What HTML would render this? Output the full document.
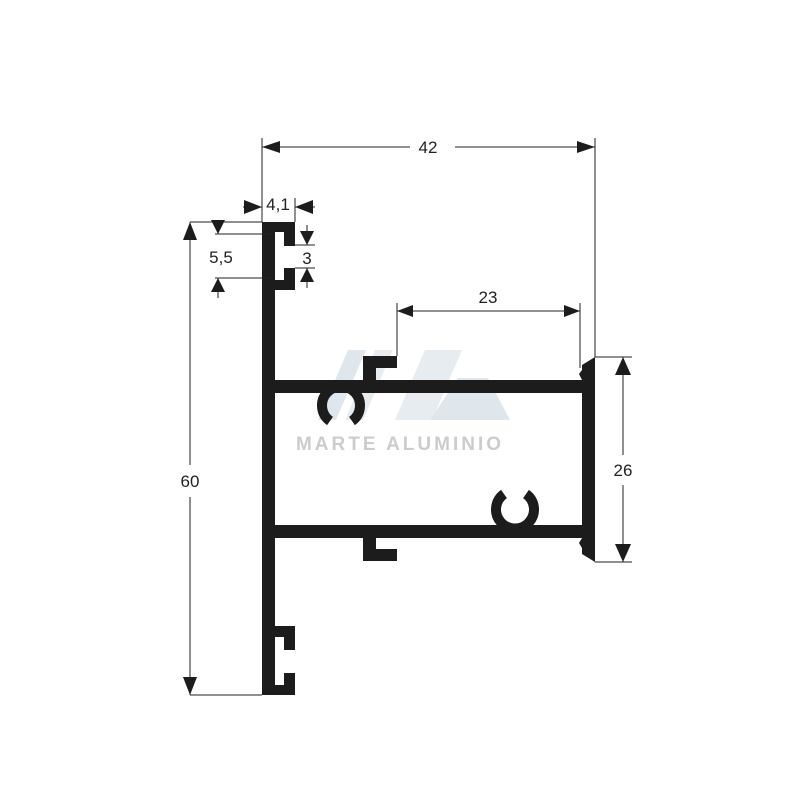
<!DOCTYPE html>
<html><head><meta charset="utf-8"><style>body{margin:0;background:#fff}svg{display:block}</style></head><body>
<svg width="800" height="800" viewBox="0 0 800 800" xmlns="http://www.w3.org/2000/svg" font-family="Liberation Sans, Arial, sans-serif">
<g opacity="0.45">
<polygon points="318,420 348,350 366,350 336,420" fill="#b9cad6"/>
<polygon points="345,420 375,350 393,350 363,420" fill="#c9d6df"/>
<polygon points="395,420 425,350 462,350 432,420" fill="#c9d6df"/>
<polygon points="430,420 458,378 488,378 510,420" fill="#b9cad6"/>
</g>
<text x="400" y="450" font-size="19" fill="#cccccc" text-anchor="middle" font-weight="bold" letter-spacing="3">MARTE ALUMINIO</text>
<g fill="#1c1c1c" stroke="none">
<rect x="262" y="222" width="13" height="473"/>
<rect x="262" y="222" width="33" height="10"/>
<rect x="284" y="222" width="11" height="24"/>
<rect x="275" y="280" width="20" height="10"/>
<rect x="284" y="268" width="11" height="22"/>
<rect x="275" y="626" width="20" height="11"/>
<rect x="284" y="626" width="11" height="24"/>
<rect x="275" y="685" width="20" height="10"/>
<rect x="284" y="673" width="11" height="22"/>
<rect x="275" y="380" width="308" height="13"/>
<rect x="275" y="525" width="308" height="13"/>
<polygon points="582,365 595,357 595,562 582,554 582,548 579,543 582,538 582,380 579,374 582,370"/>
<rect x="363" y="356" width="13" height="24"/>
<rect x="363" y="356" width="34" height="12"/>
<rect x="363" y="538" width="13" height="23"/>
<rect x="363" y="549" width="34" height="12"/>
</g>
<g fill="none" stroke="#1c1c1c" stroke-width="10" stroke-linecap="butt">
<path d="M330,421 A19,19 0 1 1 352,421" />
<path d="M504,494 A19,19 0 1 0 526,494" />
</g>
<g stroke="#222" stroke-width="1" fill="none">
<line x1="262" y1="138" x2="262" y2="222"/><line x1="595" y1="138" x2="595" y2="357"/>
<line x1="262" y1="147" x2="410" y2="147"/><line x1="455" y1="147" x2="595" y2="147"/>
<line x1="295" y1="198" x2="295" y2="222"/><line x1="243" y1="207" x2="262" y2="207"/><line x1="295" y1="207" x2="315" y2="207"/>
<line x1="190" y1="222" x2="262" y2="222"/><line x1="215" y1="234" x2="275" y2="234"/><line x1="215" y1="278" x2="275" y2="278"/>
<line x1="218" y1="220" x2="218" y2="234"/><line x1="218" y1="278" x2="218" y2="298"/>
<line x1="295" y1="245" x2="315" y2="245"/><line x1="295" y1="268" x2="315" y2="268"/>
<line x1="307" y1="225" x2="307" y2="245"/><line x1="307" y1="268" x2="307" y2="288"/>
<line x1="190" y1="222" x2="190" y2="465"/><line x1="190" y1="497" x2="190" y2="695"/><line x1="190" y1="695" x2="262" y2="695"/>
<line x1="397" y1="303" x2="397" y2="356"/><line x1="580" y1="303" x2="580" y2="368"/><line x1="397" y1="311" x2="580" y2="311"/>
<line x1="595" y1="357" x2="632" y2="357"/><line x1="595" y1="562" x2="632" y2="562"/>
<line x1="623" y1="357" x2="623" y2="455"/><line x1="623" y1="485" x2="623" y2="562"/>
</g>
<g fill="#1c1c1c">
<polygon points="262,147 280,141 280,153"/><polygon points="595,147 577,141 577,153"/>
<polygon points="262,207 244,200 244,214"/><polygon points="295,207 313,200 313,214"/>
<polygon points="218,234 211,220 225,220"/><polygon points="218,278 211,292 225,292"/>
<polygon points="307,245 300,231 314,231"/><polygon points="307,268 300,282 314,282"/>
<polygon points="190,222 183,240 197,240"/><polygon points="190,695 183,677 197,677"/>
<polygon points="397,311 413,305 413,317"/><polygon points="580,311 564,305 564,317"/>
<polygon points="623,357 615,375 631,375"/><polygon points="623,562 615,544 631,544"/>
</g>
<g font-size="17" fill="#222" text-anchor="middle">
<text x="428" y="153">42</text>
<text x="278" y="210">4,1</text>
<text x="221" y="263">5,5</text>
<text x="307" y="264">3</text>
<text x="190" y="487">60</text>
<text x="488" y="303">23</text>
<text x="623" y="476">26</text>
</g>
</svg>
</body></html>
